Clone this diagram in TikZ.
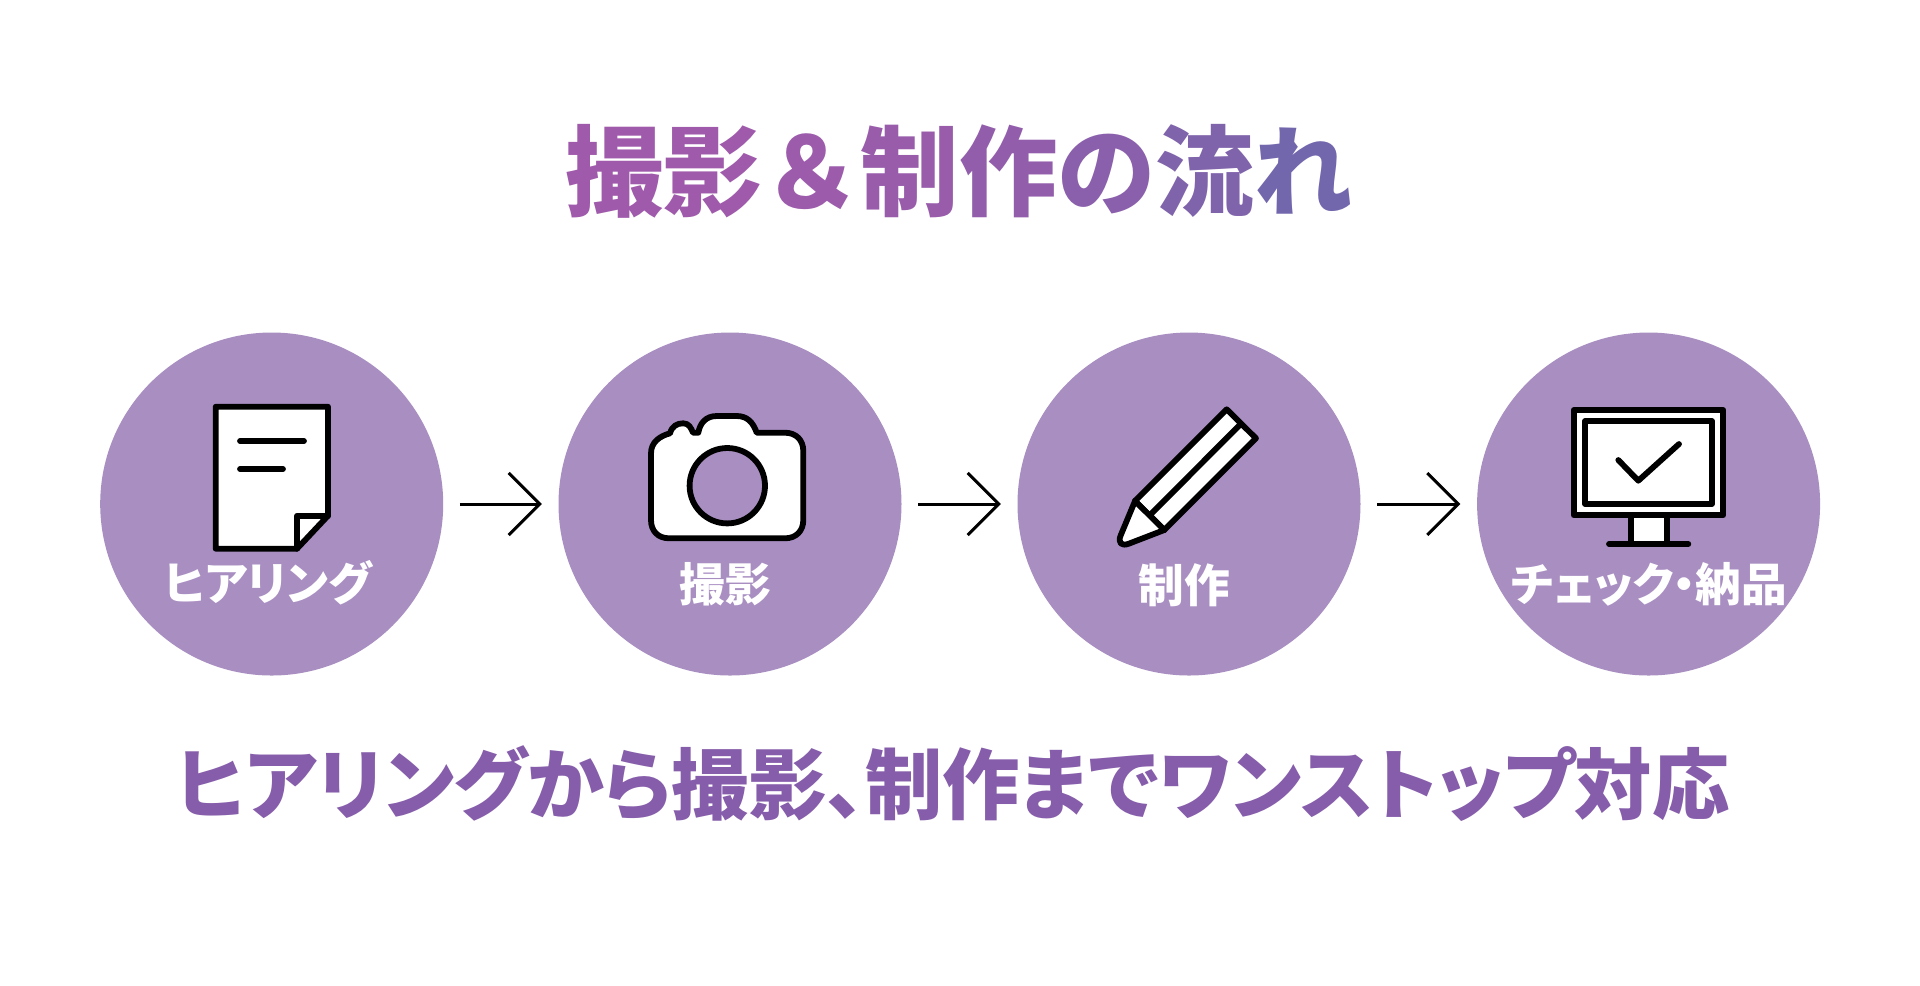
\documentclass[tikz,border=0pt]{standalone}
\usepackage{fontspec}
\setmainfont{Noto Sans CJK JP}[BoldFont=* Black]
\newfontfamily\paltfont{Noto Sans CJK JP}[BoldFont=* Black,RawFeature=+palt]
\usepackage{tikz}
\usetikzlibrary{arrows.meta,positioning}

\definecolor{stepfill}{HTML}{A98EC2}
\definecolor{slogantext}{HTML}{865DAA}
\newcommand{\headchar}[2]{\textcolor[HTML]{#1}{#2}}

\tikzset{
    stepnode/.style={circle,fill=stepfill,minimum size=343*0.1mm,inner sep=0pt},
    steplabel/.style={text=white,font=\paltfont\bfseries\fontsize{13pt}{15pt}\selectfont,inner sep=0pt},
    flow/.style={draw=black,line width=0.85pt,-{Straight Barb[length=3.1mm,width=6.2mm]},shorten <=1.6mm,shorten >=1.6mm},
    icon/.style={draw=black,line width=0.58mm,line join=round,line cap=round}
}

\begin{document}
\begin{tikzpicture}[x=0.1mm,y=-0.1mm]
    \useasboundingbox[fill=white] (0,0) rectangle (1920,985);

    \node[font=\bfseries\fontsize{28pt}{30pt}\selectfont,inner sep=0pt] (title) at (959,171) {\headchar{A05AAB}{撮}\headchar{9F5AAB}{影}\headchar{9C5BAB}{＆}\headchar{985CAB}{制}\headchar{925DAB}{作}\headchar{8A5FAB}{の}\headchar{7F63AB}{流}\headchar{7267AC}{れ}};

    \node[stepnode] (hearing) at (271.7,504) {};
    \node[stepnode] (shoot) at (730,504) {};
    \node[stepnode] (make) at (1189,504) {};
    \node[stepnode] (check) at (1648.6,504) {};

    \draw[flow] (hearing) -- (shoot);
    \draw[flow] (shoot) -- (make);
    \draw[flow] (make) -- (check);

    % document
    \draw[icon,fill=white] (215.7,406.7) -- (328,406.7) -- (328,515.7) -- (297,548.7) -- (215.7,548.7) -- cycle;
    \draw[icon] (297,548.7) -- (297,515.7) -- (328,515.7);
    \draw[icon] (240,441) -- (304,441);
    \draw[icon] (240,469) -- (283,469);

    % camera
    \draw[icon,fill=white] (756.7,432.7) -- (785,432.7) .. controls (796,432.7) and (803.3,440) .. (803.3,451)
        -- (803.3,520) .. controls (803.3,531) and (796,538.3) .. (785,538.3)
        -- (669.3,538.3) .. controls (658,538.3) and (651,531) .. (651,520)
        -- (651,453.3) .. controls (651,442) and (660,436) .. (670,433.3)
        .. controls (672,426) and (677,423.3) .. (683.3,423.3)
        .. controls (689,423.3) and (691,428) .. (693,432.7) -- (698.3,432.7)
        .. controls (700,423) and (706,416) .. (716.7,416) -- (736.7,416)
        .. controls (747,416) and (753,422) .. (756.7,432.7) -- cycle;
    \draw[icon,fill=stepfill] (727.3,485.7) circle (37.7);

    % pencil
    \draw[icon,fill=white] (1226.7,409.3) -- (1256,438.3) -- (1164.3,530) -- (1135,501) -- cycle;
    \draw[icon,fill=white,rounded corners=1.5mm] (1135,501) -- (1115,549) -- (1164.3,530);
    \draw[icon] (1135,501) -- (1164.3,530);
    \draw[icon] (1240.7,424) -- (1150,515);

    % monitor
    \draw[icon,fill=white] (1630.7,515) rectangle (1666.7,544);
    \draw[icon] (1609,544) -- (1688.3,544);
    \draw[icon,fill=white] (1573.7,410) rectangle (1723.3,515.3);
    \draw[icon] (1585.3,421) rectangle (1712,504);
    \draw[icon] (1618.3,460) -- (1638.3,480.7) -- (1679,444);

    \node[steplabel] (hearinglabel) at (268,583) {ヒアリング};
    \node[steplabel] (shootlabel) at (725,584) {撮影};
    \node[steplabel] (makelabel) at (1184,585) {制作};
    \node[steplabel] (checklabel) at (1649,584) {チェック・納品};

    \node[font=\paltfont\bfseries\fontsize{22pt}{24pt}\selectfont,text=slogantext,inner sep=0pt] (slogan) at (953,784) {ヒアリングから撮影、制作までワンストップ対応};
\end{tikzpicture}
\end{document}
